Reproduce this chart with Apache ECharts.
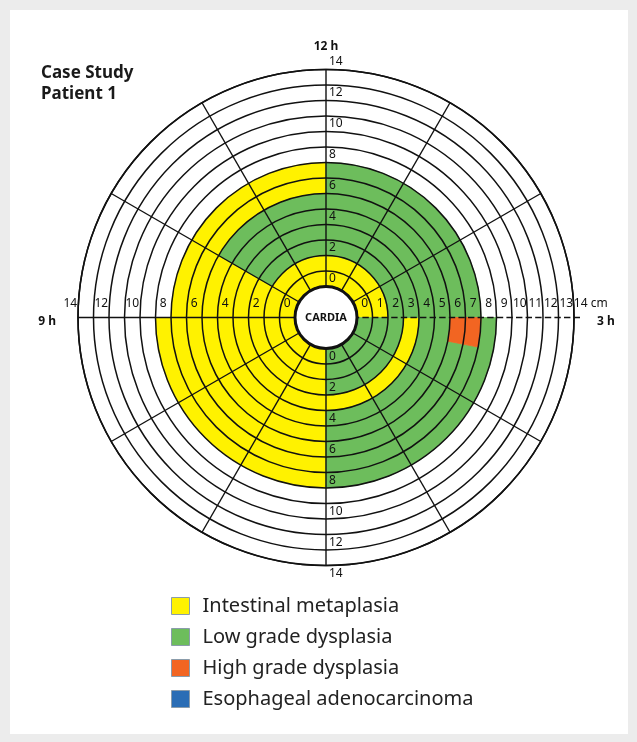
<!DOCTYPE html>
<html>
<head>
<meta charset="utf-8">
<script src="https://cdn.jsdelivr.net/npm/echarts@6.0.0/dist/echarts.min.js"></script>
<style>
html, body { margin: 0; padding: 0; background: #ececec; }
#panel { position: absolute; left: 10px; top: 10px; width: 618px; height: 724px; background: #fff; }
#chart { position: absolute; left: 0; top: 0; width: 637px; height: 742px; }
</style>
</head>
<body>
<div id="panel"></div>
<div id="chart"></div>
<script>
// rings of the map, 1 cm each, counted outward from the cardia
const rings = ['0', '1', '2', '3', '4', '5', '6', '7', '8', '9', '10', '11', '12', '13'];
// tick labels along the four clock axes
const scaleRight = ['0', '1', '2', '3', '4', '5', '6', '7', '8', '9', '10', '11', '12', '13', '14 cm'];
const scaleEven = ['0', '', '2', '', '4', '', '6', '', '8', '', '10', '', '12', '', '14'];
const clockLabels = { 0: '12 h', 90: '{e|3 h}', 270: '{w|9 h}' };

// findings: [ring, from deg, to deg], clockwise from 12 h
const intestinalMetaplasia = [
  [0, 0, 90], [0, 180, 360],
  [1, 0, 90], [1, 180, 360],
  [2, 180, 300],
  [3, 90, 300],
  [4, 180, 300],
  [5, 180, 300],
  [6, 180, 360],
  [7, 180, 360],
  [8, 180, 270]
];
const lowGradeDysplasia = [
  [0, 90, 180],
  [1, 90, 180],
  [2, 0, 180], [2, 300, 360],
  [3, 0, 90], [3, 300, 360],
  [4, 0, 180], [4, 300, 360],
  [5, 0, 180], [5, 300, 360],
  [6, 0, 90], [6, 101, 180],
  [7, 0, 90], [7, 101, 180],
  [8, 90, 180]
];
const highGradeDysplasia = [[6, 90, 101], [7, 90, 101]];
const adenocarcinoma = [];

const CX = 326, CY = 317.5, HOLE = 31, OUTER = 248, STEP = 15.5;
const FONT = 'Noto Sans';

function renderFinding(params, api) {
  const a = api.coord([api.value(0), api.value(1)]);
  const b = api.coord([api.value(0), api.value(2)]);
  const half = api.size([1, 0])[0] / 2;
  const color = api.visual('color');
  return {
    type: 'sector',
    shape: {
      cx: params.coordSys.cx, cy: params.coordSys.cy,
      r0: a[2] - half, r: a[2] + half,
      startAngle: -a[3], endAngle: -b[3], clockwise: true
    },
    style: { fill: color, stroke: color, lineWidth: 0.8 }
  };
}

function findingSeries(name, color, data) {
  return {
    type: 'custom', name: name, coordinateSystem: 'polar', polarIndex: 0,
    itemStyle: { color: color }, encode: { radius: 0, angle: [1, 2] },
    renderItem: renderFinding, data: data, silent: true, z: 2
  };
}

function labelAxis(idx, labels, extra) {
  return Object.assign({
    polarIndex: idx, type: 'category', data: labels, z: 12,
    axisLine: { show: false }, axisTick: { show: false, interval: 0 }, splitLine: { show: false }
  }, extra);
}

const labelStyle = { interval: 0, fontSize: 12, color: '#111', fontFamily: FONT };
const clockStyle = { fontSize: 12, fontWeight: 'bold', color: '#111', fontFamily: FONT };
const spokeColors = [];
for (let i = 0; i <= 12; i++) spokeColors.push(i === 3 ? 'rgba(0,0,0,0)' : '#111');

let chart = echarts.init(document.getElementById('chart'));
let option = {
  animation: false,
  backgroundColor: 'transparent',
  title: {
    text: 'Case Study\nPatient 1', left: 36, top: 58,
    textStyle: { fontSize: 17, fontWeight: 'bold', lineHeight: 21, color: '#1a1a1a', fontFamily: FONT }
  },
  legend: {
    data: ['Intestinal metaplasia', 'Low grade dysplasia', 'High grade dysplasia', 'Esophageal adenocarcinoma'],
    orient: 'vertical', left: 166, top: 591, icon: 'rect',
    itemWidth: 18, itemHeight: 17, itemGap: 11, selectedMode: false,
    itemStyle: { borderColor: '#8a9cab', borderWidth: 1 },
    textStyle: { fontSize: 20, lineHeight: 20, color: '#222', fontFamily: FONT, padding: [0, 0, 0, 8] }
  },
  polar: [
    { center: [CX, CY], radius: [HOLE, OUTER] },
    { center: [CX, CY], radius: [HOLE, OUTER + STEP] },
    { center: [CX, CY], radius: [HOLE, OUTER + STEP] },
    { center: [CX, CY], radius: [HOLE, OUTER + STEP] },
    { center: [CX, CY], radius: [HOLE, OUTER + STEP] },
    { center: [CX, CY], radius: [HOLE, OUTER + 6] }
  ],
  angleAxis: [
    {
      polarIndex: 0, type: 'value', min: 0, max: 360, interval: 30, startAngle: 90, z: 10,
      axisLine: { lineStyle: { color: '#111', width: 1.6 } },
      axisTick: { show: false },
      axisLabel: Object.assign({}, clockStyle, {
        margin: 17,
        formatter: function (v) { return clockLabels[v] || ''; },
        rich: {
          e: Object.assign({}, clockStyle, { padding: [8, 0, 0, 6] }),
          w: Object.assign({}, clockStyle, { padding: [8, 5, 0, 0] })
        }
      }),
      splitLine: { show: true, lineStyle: { color: spokeColors, width: 1.4 } }
    },
    { polarIndex: 1, type: 'value', min: 0, max: 360, startAngle: 0, show: false },
    { polarIndex: 2, type: 'value', min: 0, max: 360, startAngle: 90, show: false },
    { polarIndex: 3, type: 'value', min: 0, max: 360, startAngle: 180, show: false },
    { polarIndex: 4, type: 'value', min: 0, max: 360, startAngle: 270, show: false },
    {
      polarIndex: 5, type: 'value', min: 0, max: 360, interval: 90, startAngle: 90, z: 10,
      axisLine: { show: false }, axisTick: { show: false }, axisLabel: { show: false },
      splitLine: { show: true, lineStyle: { color: ['rgba(0,0,0,0)', '#111', 'rgba(0,0,0,0)', 'rgba(0,0,0,0)'], type: 'dashed', width: 1.6 } }
    }
  ],
  radiusAxis: [
    {
      polarIndex: 0, type: 'category', data: rings, z: 10,
      axisLine: { show: false }, axisTick: { show: false, interval: 0 }, axisLabel: { show: false, interval: 0 },
      splitLine: { show: true, interval: 0, lineStyle: { color: '#111', width: 1.5 } }
    },
    labelAxis(1, scaleRight, { axisLabel: Object.assign({}, labelStyle, {
      margin: 8, align: 'center', verticalAlign: 'bottom',
      formatter: function (v) { return v === '14 cm' ? '{u|14 cm}' : v; },
      rich: { u: { padding: [0, 0, 0, 18], fontSize: 12, color: '#111', fontFamily: FONT } }
    }) }),
    labelAxis(2, scaleEven, { axisLabel: Object.assign({}, labelStyle, { margin: -3, align: 'left', verticalAlign: 'middle' }) }),
    labelAxis(3, scaleEven, { axisLabel: Object.assign({}, labelStyle, { margin: -8, align: 'center', verticalAlign: 'bottom' }) }),
    labelAxis(4, scaleEven, { axisLabel: Object.assign({}, labelStyle, { margin: 3, align: 'left', verticalAlign: 'middle' }) }),
    { polarIndex: 5, type: 'value', min: 0, max: 1, show: false }
  ],
  series: [
    findingSeries('Intestinal metaplasia', '#fff200', intestinalMetaplasia),
    findingSeries('Low grade dysplasia', '#6dbd5c', lowGradeDysplasia),
    findingSeries('High grade dysplasia', '#f26522', highGradeDysplasia),
    findingSeries('Esophageal adenocarcinoma', '#2a6db5', adenocarcinoma),
    {
      type: 'pie', center: [CX, CY], radius: [0, HOLE], silent: true, z: 20,
      itemStyle: { color: '#fff', borderColor: '#111', borderWidth: 3 },
      label: { show: true, position: 'center', formatter: 'CARDIA', fontSize: 11, fontWeight: 'bold', color: '#111', fontFamily: FONT },
      labelLine: { show: false }, emphasis: { disabled: true },
      data: [{ value: 1, name: 'CARDIA' }]
    }
  ]
};
chart.setOption(option);
</script>
</body>
</html>
